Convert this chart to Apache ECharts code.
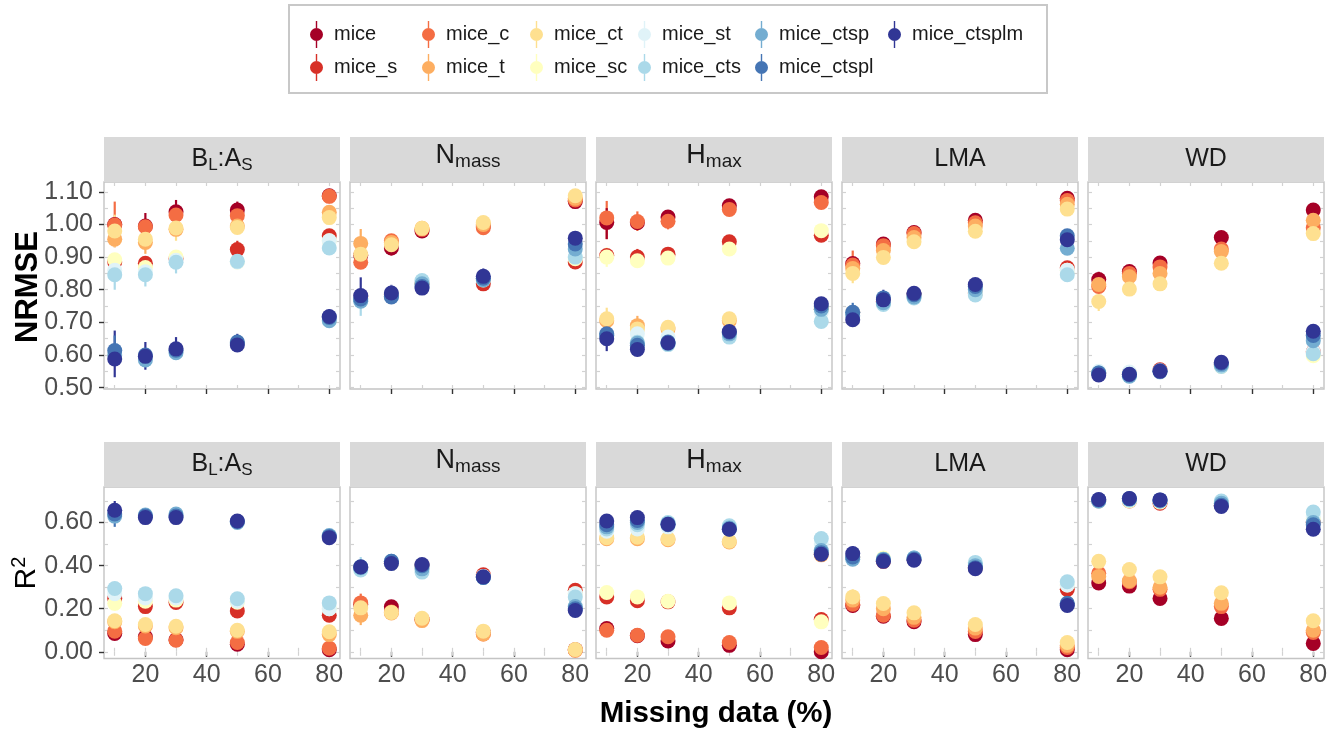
<!DOCTYPE html>
<html>
<head>
<meta charset="utf-8">
<script src="https://cdn.jsdelivr.net/npm/echarts@6/dist/echarts.min.js"></script>
<style>
  html, body { margin: 0; padding: 0; background: #ffffff; }
  #chart { width: 1343px; height: 733px; }
</style>
</head>
<body>
<div id="chart"></div>
<script>
// ---------- data ----------
const missing = [10, 20, 30, 50, 80];
const methods = ['mice', 'mice_s', 'mice_c', 'mice_t', 'mice_ct', 'mice_sc', 'mice_st',
                 'mice_cts', 'mice_ctsp', 'mice_ctspl', 'mice_ctsplm'];
const methodColors = ['#A50026', '#D73027', '#F46D43', '#FDAE61', '#FEE090', '#FFFFBF',
                      '#E0F3F8', '#ABD9E9', '#74ADD1', '#4575B4', '#313695'];
const traitLabels = ['{n|B}{s|L}{n|:A}{s|S}', '{n2|N}{s2|mass}', '{n2|H}{s2|max}', '{n|LMA}', '{n|WD}'];
const xTicks = [20, 40, 60, 80];
const xMinorTicks = [10, 20, 30, 40, 50, 60, 70, 80];
const nrmseTicks = [0.5, 0.6, 0.7, 0.8, 0.9, 1.0, 1.1];
const nrmseMinorTicks = [0.5, 0.55, 0.6, 0.65, 0.7, 0.75, 0.8, 0.85, 0.9, 0.95, 1.0, 1.05, 1.1];
const r2Ticks = [0, 0.2, 0.4, 0.6];
const r2MinorTicks = [0, 0.1, 0.2, 0.3, 0.4, 0.5, 0.6, 0.7];
const legendColumns = [['mice', 'mice_s'], ['mice_c', 'mice_t'], ['mice_ct', 'mice_sc'],
                       ['mice_st', 'mice_cts'], ['mice_ctsp', 'mice_ctspl'], ['mice_ctsplm']];

// NRMSE, one row per method (order of `methods`), one value per missing-data level
const nrmseBLAS = [
  [1.000, 0.995, 1.039, 1.044, 1.088],
  [0.885, 0.881, 0.895, 0.923, 0.965],
  [0.998, 0.993, 1.029, 1.027, 1.086],
  [0.955, 0.945, 0.985, 0.995, 1.037],
  [0.980, 0.955, 0.989, 0.991, 1.021],
  [0.892, 0.868, 0.900, 0.885, 0.950],
  [0.860, 0.855, 0.890, 0.885, 0.950],
  [0.846, 0.846, 0.884, 0.887, 0.928],
  [0.600, 0.585, 0.607, 0.635, 0.705],
  [0.614, 0.600, 0.615, 0.640, 0.715],
  [0.588, 0.596, 0.619, 0.631, 0.718]
];
const nrmseNmass = [
  [0.905, 0.928, 0.980, 0.995, 1.070],
  [0.780, 0.785, 0.820, 0.818, 0.885],
  [0.884, 0.950, 0.985, 0.990, 1.075],
  [0.942, 0.945, 0.988, 1.000, 1.080],
  [0.909, 0.938, 0.988, 1.006, 1.088],
  [0.775, 0.785, 0.820, 0.830, 0.895],
  [0.780, 0.790, 0.825, 0.835, 0.900],
  [0.767, 0.785, 0.828, 0.835, 0.900],
  [0.765, 0.780, 0.818, 0.830, 0.925],
  [0.772, 0.778, 0.810, 0.835, 0.940],
  [0.782, 0.790, 0.805, 0.841, 0.958]
];
const nrmseHmax = [
  [1.006, 1.005, 1.023, 1.057, 1.085],
  [0.905, 0.900, 0.909, 0.947, 0.967],
  [1.020, 1.009, 1.010, 1.046, 1.067],
  [0.705, 0.690, 0.680, 0.705, 0.740],
  [0.711, 0.680, 0.685, 0.711, 0.745],
  [0.900, 0.889, 0.897, 0.925, 0.981],
  [0.660, 0.665, 0.655, 0.670, 0.730],
  [0.660, 0.639, 0.632, 0.655, 0.703],
  [0.660, 0.636, 0.635, 0.665, 0.740],
  [0.665, 0.630, 0.640, 0.670, 0.750],
  [0.650, 0.617, 0.637, 0.672, 0.757]
];
const nrmseLMA = [
  [0.880, 0.940, 0.975, 1.013, 1.080],
  [0.730, 0.765, 0.785, 0.790, 0.867],
  [0.876, 0.935, 0.972, 1.005, 1.073],
  [0.865, 0.920, 0.960, 0.995, 1.062],
  [0.850, 0.899, 0.947, 0.979, 1.047],
  [0.730, 0.760, 0.780, 0.790, 0.860],
  [0.730, 0.760, 0.780, 0.790, 0.860],
  [0.730, 0.755, 0.775, 0.784, 0.846],
  [0.720, 0.760, 0.778, 0.800, 0.927],
  [0.731, 0.775, 0.785, 0.810, 0.965],
  [0.708, 0.769, 0.789, 0.816, 0.953]
];
const nrmseWD = [
  [0.831, 0.856, 0.882, 0.960, 1.044],
  [0.545, 0.545, 0.555, 0.570, 0.610],
  [0.810, 0.850, 0.870, 0.925, 0.990],
  [0.816, 0.840, 0.850, 0.917, 1.013],
  [0.764, 0.802, 0.818, 0.881, 0.972],
  [0.545, 0.540, 0.550, 0.565, 0.598],
  [0.550, 0.548, 0.552, 0.568, 0.610],
  [0.545, 0.540, 0.548, 0.565, 0.604],
  [0.545, 0.535, 0.550, 0.570, 0.644],
  [0.545, 0.540, 0.552, 0.575, 0.660],
  [0.539, 0.541, 0.550, 0.578, 0.673]
];

// R², same layout
const r2BLAS = [
  [0.085, 0.070, 0.056, 0.035, 0.010],
  [0.247, 0.210, 0.229, 0.190, 0.170],
  [0.096, 0.062, 0.054, 0.043, 0.017],
  [0.140, 0.120, 0.112, 0.095, 0.080],
  [0.144, 0.127, 0.119, 0.100, 0.093],
  [0.225, 0.235, 0.240, 0.230, 0.200],
  [0.270, 0.250, 0.250, 0.235, 0.200],
  [0.294, 0.270, 0.260, 0.246, 0.227],
  [0.630, 0.635, 0.640, 0.600, 0.540],
  [0.640, 0.630, 0.630, 0.605, 0.535],
  [0.657, 0.623, 0.623, 0.607, 0.530]
];
const r2Nmass = [
  [0.220, 0.209, 0.150, 0.090, 0.010],
  [0.390, 0.410, 0.400, 0.358, 0.286],
  [0.227, 0.185, 0.150, 0.083, 0.008],
  [0.170, 0.180, 0.145, 0.083, 0.008],
  [0.204, 0.183, 0.156, 0.096, 0.011],
  [0.390, 0.410, 0.390, 0.350, 0.270],
  [0.390, 0.410, 0.390, 0.350, 0.270],
  [0.380, 0.410, 0.370, 0.345, 0.254],
  [0.390, 0.420, 0.385, 0.345, 0.210],
  [0.395, 0.420, 0.400, 0.345, 0.200],
  [0.394, 0.410, 0.405, 0.348, 0.192]
];
const r2Hmax = [
  [0.108, 0.075, 0.050, 0.030, 0.000],
  [0.255, 0.237, 0.232, 0.204, 0.150],
  [0.100, 0.077, 0.070, 0.043, 0.020],
  [0.525, 0.525, 0.520, 0.510, 0.450],
  [0.530, 0.532, 0.525, 0.513, 0.455],
  [0.275, 0.255, 0.235, 0.227, 0.139],
  [0.560, 0.570, 0.580, 0.580, 0.500],
  [0.570, 0.590, 0.600, 0.585, 0.526],
  [0.580, 0.600, 0.595, 0.575, 0.470],
  [0.590, 0.610, 0.590, 0.570, 0.460],
  [0.607, 0.623, 0.592, 0.569, 0.453]
];
const r2LMA = [
  [0.215, 0.165, 0.140, 0.080, 0.010],
  [0.440, 0.420, 0.430, 0.390, 0.290],
  [0.221, 0.170, 0.147, 0.094, 0.020],
  [0.240, 0.200, 0.160, 0.110, 0.030],
  [0.255, 0.224, 0.181, 0.127, 0.043],
  [0.440, 0.435, 0.430, 0.400, 0.310],
  [0.440, 0.430, 0.435, 0.410, 0.310],
  [0.440, 0.425, 0.435, 0.415, 0.325],
  [0.430, 0.430, 0.435, 0.400, 0.220],
  [0.440, 0.425, 0.430, 0.390, 0.225],
  [0.456, 0.420, 0.425, 0.386, 0.215]
];
const r2WD = [
  [0.320, 0.305, 0.248, 0.155, 0.039],
  [0.700, 0.700, 0.690, 0.680, 0.600],
  [0.365, 0.325, 0.290, 0.210, 0.090],
  [0.350, 0.330, 0.300, 0.225, 0.100],
  [0.420, 0.382, 0.348, 0.274, 0.144],
  [0.700, 0.700, 0.695, 0.690, 0.620],
  [0.700, 0.705, 0.700, 0.690, 0.630],
  [0.700, 0.705, 0.700, 0.700, 0.649],
  [0.700, 0.710, 0.700, 0.690, 0.600],
  [0.705, 0.710, 0.705, 0.680, 0.590],
  [0.707, 0.712, 0.705, 0.675, 0.569]
];

// interval bars: [metric row (0 NRMSE, 1 R²), trait, method, missing-level index, low, high]
const errorBars = [
  [0, 0, 2, 0, 0.930, 1.070], [0, 0, 4, 0, 0.930, 1.030], [0, 0, 7, 0, 0.800, 0.890],
  [0, 0, 10, 0, 0.532, 0.675], [0, 0, 9, 0, 0.570, 0.660],
  [0, 0, 0, 1, 0.950, 1.035], [0, 0, 3, 1, 0.910, 0.980], [0, 0, 7, 1, 0.810, 0.880],
  [0, 0, 10, 1, 0.555, 0.640],
  [0, 0, 0, 2, 0.995, 1.075], [0, 0, 4, 2, 0.950, 1.020], [0, 0, 7, 2, 0.850, 0.915],
  [0, 0, 10, 2, 0.585, 0.655],
  [0, 0, 0, 3, 1.015, 1.070], [0, 0, 1, 3, 0.900, 0.950], [0, 0, 7, 3, 0.865, 0.910],
  [0, 0, 10, 3, 0.610, 0.665], [0, 0, 9, 4, 0.700, 0.740],
  [0, 1, 3, 0, 0.900, 0.986], [0, 1, 10, 0, 0.760, 0.838], [0, 1, 7, 0, 0.720, 0.800],
  [0, 1, 0, 1, 0.905, 0.960], [0, 1, 10, 1, 0.765, 0.815], [0, 1, 10, 2, 0.785, 0.835],
  [0, 1, 10, 3, 0.820, 0.865],
  [0, 2, 2, 0, 0.955, 1.072], [0, 2, 0, 0, 0.955, 1.050], [0, 2, 5, 0, 0.870, 0.930],
  [0, 2, 4, 0, 0.680, 0.745], [0, 2, 10, 0, 0.612, 0.680],
  [0, 2, 2, 1, 0.980, 1.040], [0, 2, 1, 1, 0.880, 0.925], [0, 2, 3, 1, 0.665, 0.720],
  [0, 2, 2, 2, 0.985, 1.040],
  [0, 3, 2, 0, 0.845, 0.920], [0, 3, 4, 0, 0.820, 0.880], [0, 3, 9, 0, 0.705, 0.760],
  [0, 3, 10, 0, 0.690, 0.730], [0, 3, 2, 1, 0.910, 0.960], [0, 3, 10, 1, 0.745, 0.800],
  [0, 3, 10, 2, 0.770, 0.810], [0, 3, 4, 2, 0.925, 0.965], [0, 3, 9, 4, 0.940, 0.985],
  [0, 4, 0, 0, 0.810, 0.855], [0, 4, 4, 0, 0.735, 0.790], [0, 4, 7, 0, 0.530, 0.560],
  [1, 0, 10, 0, 0.620, 0.700], [1, 0, 9, 0, 0.580, 0.680], [1, 0, 7, 0, 0.270, 0.320],
  [1, 0, 5, 0, 0.190, 0.250],
  [1, 1, 2, 0, 0.180, 0.270], [1, 1, 3, 0, 0.124, 0.200], [1, 1, 7, 0, 0.360, 0.440],
  [1, 1, 10, 0, 0.370, 0.420], [1, 1, 0, 1, 0.190, 0.230], [1, 1, 10, 1, 0.390, 0.440],
  [1, 2, 5, 0, 0.250, 0.300], [1, 2, 0, 0, 0.090, 0.130],
  [1, 3, 10, 0, 0.400, 0.490], [1, 3, 4, 0, 0.200, 0.290], [1, 3, 2, 0, 0.180, 0.260]
];

const nrmseByTrait = [nrmseBLAS, nrmseNmass, nrmseHmax, nrmseLMA, nrmseWD];
const r2ByTrait = [r2BLAS, r2Nmass, r2Hmax, r2LMA, r2WD];

// ---------- layout ----------
const FONT = '"Liberation Sans", Arial, Helvetica, sans-serif';
const PANEL_LEFT = 104, PANEL_STEP = 246, PANEL_W = 236;
const rows = [
  { top: 182, height: 207, stripTop: 137, min: 0.496, max: 1.13,
    ticks: nrmseTicks, minor: nrmseMinorTicks, values: nrmseByTrait },
  { top: 487, height: 171.5, stripTop: 442, min: -0.031, max: 0.765,
    ticks: r2Ticks, minor: r2MinorTicks, values: r2ByTrait }
];
const STRIP_H = 45;
const X_MIN = 6.5, X_MAX = 83.5;

const grid = [], xAxis = [], yAxis = [], series = [], graphic = [];

rows.forEach(function (row, r) {
  for (let c = 0; c < 5; c++) {
    const g = grid.length;
    const left = PANEL_LEFT + PANEL_STEP * c;
    grid.push({
      left: left, top: row.top, width: PANEL_W, height: row.height,
      show: true, backgroundColor: '#ffffff', borderColor: '#C4C4C4', borderWidth: 1.4,
      containLabel: false
    });

    const xBase = { type: 'value', gridIndex: g, min: X_MIN, max: X_MAX,
                    splitLine: { show: false }, axisLine: { show: false } };
    const xi = xAxis.length;
    // outer ticks and labels
    xAxis.push(Object.assign({}, xBase, {
      position: 'bottom',
      axisTick: { show: true, length: 5, customValues: xTicks,
                  lineStyle: { color: '#333333', width: 1.4 } },
      axisLabel: { show: r === 1, customValues: xTicks, margin: 4,
                   fontFamily: FONT, fontSize: 25, color: '#4D4D4D' }
    }));
    // short inner tick marks along the top and bottom edges
    ['top', 'bottom'].forEach(function (pos) {
      xAxis.push(Object.assign({}, xBase, {
        position: pos,
        axisTick: { show: true, inside: true, length: 4, customValues: xMinorTicks,
                    lineStyle: { color: '#D2D2D2', width: 1.2 } },
        axisLabel: { show: false }
      }));
    });

    const yBase = { type: 'value', gridIndex: g, min: row.min, max: row.max,
                    splitLine: { show: false }, axisLine: { show: false } };
    const yi = yAxis.length;
    yAxis.push(Object.assign({}, yBase, {
      position: 'left',
      axisTick: { show: c === 0, length: 5, customValues: row.ticks,
                  lineStyle: { color: '#333333', width: 1.4 } },
      axisLabel: { show: c === 0, customValues: row.ticks, margin: 11,
                   fontFamily: FONT, fontSize: 25, color: '#4D4D4D',
                   formatter: function (v) { return Math.abs(v) < 1e-9 ? '0.00' : v.toFixed(2); } }
    }));
    ['left', 'right'].forEach(function (pos) {
      yAxis.push(Object.assign({}, yBase, {
        position: pos,
        axisTick: { show: true, inside: true, length: 4, customValues: row.minor,
                    lineStyle: { color: '#D2D2D2', width: 1.2 } },
        axisLabel: { show: false }
      }));
    });

    // interval bars for this panel, drawn below all points
    const bars = errorBars.filter(function (e) { return e[0] === r && e[1] === c; })
      .map(function (e) { return [missing[e[3]], e[4], e[5], e[2]]; });
    series.push({
      type: 'custom', xAxisIndex: xi, yAxisIndex: yi, z: 2, silent: true,
      encode: { x: 0, y: [1, 2] },
      data: bars,
      renderItem: function (params, api) {
        const x = api.value(0);
        const p1 = api.coord([x, api.value(1)]);
        const p2 = api.coord([x, api.value(2)]);
        return { type: 'line',
                 shape: { x1: p1[0], y1: p1[1], x2: p2[0], y2: p2[1] },
                 style: { stroke: methodColors[api.value(3)], lineWidth: 2.2 } };
      }
    });

    // points, one series per method
    const values = row.values[c];
    methods.forEach(function (name, m) {
      series.push({
        type: 'scatter', name: name, xAxisIndex: xi, yAxisIndex: yi, z: 3,
        symbol: 'circle', symbolSize: 15,
        itemStyle: { color: methodColors[m], opacity: 1 },
        emphasis: { disabled: true }, silent: true,
        data: missing.map(function (x, i) { return [x, values[m][i]]; })
      });
    });

    // facet strip
    graphic.push({ type: 'rect', silent: true, z: 10,
      shape: { x: left, y: row.stripTop, width: PANEL_W, height: STRIP_H },
      style: { fill: '#D9D9D9' } });
    const raised = (c === 1 || c === 2) ? -4 : 0;
    graphic.push({ type: 'text', silent: true, z: 11,
      x: left + PANEL_W / 2, y: row.stripTop + STRIP_H / 2 + raised,
      style: {
        text: traitLabels[c], align: 'center', verticalAlign: 'middle',
        fontFamily: FONT, fill: '#1A1A1A',
        rich: {
          n:  { fontFamily: FONT, fontSize: 25, lineHeight: 32, verticalAlign: 'middle', fill: '#1A1A1A' },
          s:  { fontFamily: FONT, fontSize: 17, lineHeight: 18, padding: [12, 0, 0, 0], verticalAlign: 'middle', fill: '#1A1A1A' },
          n2: { fontFamily: FONT, fontSize: 27, lineHeight: 32, verticalAlign: 'middle', fill: '#1A1A1A' },
          s2: { fontFamily: FONT, fontSize: 19, lineHeight: 18, padding: [13, 0, 0, 0], verticalAlign: 'middle', fill: '#1A1A1A' }
        }
      } });
  }
});

// axis titles
graphic.push({ type: 'text', silent: true, x: 28, y: 287, rotation: Math.PI / 2,
  style: { text: 'NRMSE', align: 'center', verticalAlign: 'middle',
           font: 'bold 31px ' + FONT, fill: '#000000' } });
graphic.push({ type: 'text', silent: true, x: 27, y: 573, rotation: Math.PI / 2,
  style: { text: '{r|R}{p|2}', align: 'center', verticalAlign: 'middle',
           rich: {
             r: { fontFamily: FONT, fontSize: 30, lineHeight: 36, verticalAlign: 'middle', fill: '#000000' },
             p: { fontFamily: FONT, fontSize: 20, lineHeight: 18, padding: [0, 0, 16, 0], verticalAlign: 'middle', fill: '#000000' }
           } } });
graphic.push({ type: 'text', silent: true, x: 716, y: 714,
  style: { text: 'Missing data (%)', align: 'center', verticalAlign: 'middle',
           font: 'bold 29.5px ' + FONT, fill: '#000000' } });

// legend frame
graphic.push({ type: 'rect', silent: true, z: -1,
  shape: { x: 289, y: 5, width: 758, height: 88 },
  style: { fill: '#ffffff', stroke: '#C8C8C8', lineWidth: 2 } });

// legend: pointrange key (dot with a vertical stroke)
const keyIcon = 'path://M5.8,0h1.4v7h-1.4z M5.8,20h1.4v7h-1.4z M0,13.5a6.5,6.5 0 1,0 13,0a6.5,6.5 0 1,0 -13,0z';
const legendTextStarts = [340, 452, 560, 668, 785, 918];
const legend = legendColumns.map(function (names, k) {
  return {
    orient: 'vertical', left: legendTextStarts[k] - 30, top: 21,
    padding: 0, itemGap: 6, itemWidth: 25, itemHeight: 27,
    selectedMode: false, icon: keyIcon,
    data: names.map(function (n) { return { name: n, icon: keyIcon }; }),
    textStyle: { fontFamily: FONT, fontSize: 20, color: '#1A1A1A' }
  };
});

const chart = echarts.init(document.getElementById('chart'), null, { renderer: 'canvas' });
chart.setOption({
  animation: false,
  backgroundColor: '#ffffff',
  grid: grid, xAxis: xAxis, yAxis: yAxis,
  legend: legend,
  series: series,
  graphic: graphic
});
</script>
</body>
</html>
